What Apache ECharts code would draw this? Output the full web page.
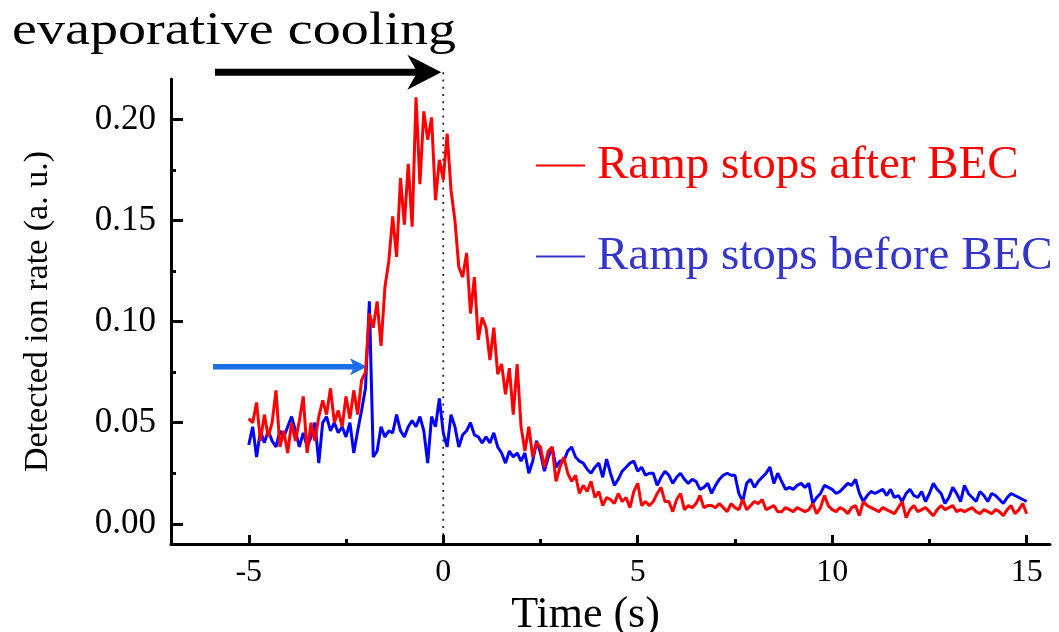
<!DOCTYPE html>
<html>
<head>
<meta charset="utf-8">
<title>Detected ion rate</title>
<script src="https://cdn.jsdelivr.net/npm/echarts@6/dist/echarts.min.js"></script>
<style>
    html, body { margin: 0; padding: 0; background: #fff; }
    #main { width: 1059px; height: 632px; }
</style>
</head>
<body>
<div id="main"></div>
<script>
var serif = '"Liberation Serif", "Times New Roman", serif';

// both traces: -5 s .. 15 s, one sample every 0.1 s
var timeStart = -5;
var timeStep = 0.1;

// Ramp stops after BEC (red)
var afterBEC = [
    0.052, 0.050, 0.060, 0.041, 0.054, 0.043, 0.050, 0.066, 0.038, 0.046,
    0.035, 0.050, 0.041, 0.051, 0.063, 0.035, 0.050, 0.041, 0.053, 0.061,
    0.054, 0.067, 0.050, 0.056, 0.048, 0.063, 0.052, 0.066, 0.054, 0.071,
    0.075, 0.104, 0.097, 0.110, 0.088, 0.117, 0.130, 0.152, 0.132, 0.171,
    0.148, 0.178, 0.147, 0.211, 0.168, 0.204, 0.190, 0.201, 0.160, 0.180,
    0.170, 0.193, 0.165, 0.150, 0.127, 0.122, 0.134, 0.104, 0.122, 0.091,
    0.102, 0.097, 0.081, 0.097, 0.074, 0.079, 0.064, 0.077, 0.054, 0.079,
    0.048, 0.036, 0.048, 0.033, 0.040, 0.038, 0.028, 0.036, 0.038, 0.021,
    0.028, 0.033, 0.025, 0.021, 0.024, 0.015, 0.019, 0.016, 0.021, 0.013,
    0.016, 0.009, 0.013, 0.012, 0.010, 0.015, 0.011, 0.013, 0.008, 0.016,
    0.020, 0.009, 0.011, 0.009, 0.011, 0.015, 0.018, 0.011, 0.011, 0.006,
    0.012, 0.015, 0.007, 0.009, 0.008, 0.010, 0.014, 0.008, 0.009, 0.009,
    0.008, 0.010, 0.008, 0.006, 0.010, 0.008, 0.007, 0.012, 0.007, 0.009,
    0.011, 0.010, 0.012, 0.007, 0.008, 0.009, 0.006, 0.006, 0.008, 0.007,
    0.006, 0.008, 0.007, 0.006, 0.007, 0.010, 0.005, 0.008, 0.014, 0.009,
    0.007, 0.006, 0.008, 0.007, 0.005, 0.008, 0.009, 0.004, 0.011, 0.009,
    0.008, 0.007, 0.006, 0.008, 0.007, 0.006, 0.005, 0.008, 0.011, 0.003,
    0.007, 0.009, 0.006, 0.007, 0.008, 0.006, 0.004, 0.007, 0.009, 0.007,
    0.008, 0.009, 0.006, 0.007, 0.006, 0.007, 0.008, 0.006, 0.005, 0.007,
    0.006, 0.005, 0.007, 0.006, 0.004, 0.007, 0.009, 0.005, 0.007, 0.010,
    0.005
];

// Ramp stops before BEC (blue)
var beforeBEC = [
    0.039, 0.048, 0.033, 0.046, 0.040, 0.046, 0.041, 0.038, 0.046, 0.043,
    0.048, 0.053, 0.046, 0.038, 0.045, 0.038, 0.043, 0.050, 0.030, 0.050,
    0.053, 0.046, 0.050, 0.045, 0.048, 0.043, 0.050, 0.035, 0.046, 0.056,
    0.067, 0.110, 0.033, 0.036, 0.048, 0.043, 0.046, 0.045, 0.054, 0.046,
    0.043, 0.048, 0.051, 0.048, 0.053, 0.046, 0.030, 0.053, 0.048, 0.062,
    0.045, 0.038, 0.054, 0.048, 0.038, 0.044, 0.046, 0.050, 0.044, 0.043,
    0.040, 0.043, 0.040, 0.045, 0.038, 0.035, 0.030, 0.036, 0.033, 0.035,
    0.031, 0.035, 0.025, 0.031, 0.041, 0.035, 0.026, 0.033, 0.038, 0.028,
    0.031, 0.031, 0.036, 0.038, 0.033, 0.031, 0.030, 0.027, 0.025, 0.028,
    0.030, 0.023, 0.032, 0.025, 0.019, 0.022, 0.026, 0.028, 0.030, 0.031,
    0.026, 0.028, 0.024, 0.025, 0.025, 0.019, 0.023, 0.026, 0.024, 0.020,
    0.023, 0.025, 0.022, 0.020, 0.022, 0.021, 0.017, 0.018, 0.020, 0.015,
    0.019, 0.022, 0.024, 0.025, 0.024, 0.024, 0.015, 0.011, 0.020, 0.022,
    0.018, 0.021, 0.023, 0.025, 0.028, 0.020, 0.025, 0.021, 0.017, 0.018,
    0.017, 0.019, 0.020, 0.018, 0.020, 0.010, 0.013, 0.015, 0.019, 0.018,
    0.017, 0.015, 0.016, 0.018, 0.020, 0.019, 0.022, 0.015, 0.011, 0.014,
    0.016, 0.015, 0.016, 0.017, 0.014, 0.017, 0.013, 0.014, 0.011, 0.015,
    0.017, 0.014, 0.013, 0.016, 0.011, 0.015, 0.020, 0.017, 0.015, 0.010,
    0.013, 0.018, 0.015, 0.011, 0.019, 0.015, 0.013, 0.011, 0.016, 0.014,
    0.011, 0.015, 0.014, 0.012, 0.010, 0.013, 0.015, 0.014, 0.013, 0.012,
    0.011
];

var xMajorTicks = [-5, 0, 5, 10, 15];
var xMinorTicks = [-2.5, 2.5, 7.5, 12.5];
var yMajorTicks = [0, 0.05, 0.10, 0.15, 0.20];
var yMinorTicks = [0.025, 0.075, 0.125, 0.175];

// annotation arrows, in data units (time, rate)
var coolingArrow = { from: [-5.87, 0.2233], to: [-0.05, 0.2233] };
var rampArrow = { from: [-5.92, 0.0777], to: [-1.96, 0.0777] };

function toPairs(values) {
    return values.map(function (v, i) {
        return [+(timeStart + i * timeStep).toFixed(2), v];
    });
}

var gridBox = { left: 171, right: 9, top: 79, bottom: 88, outerBoundsMode: 'none', containLabel: false };
var xRange = { min: -7, max: 15.6 };
var yRange = { min: -0.01, max: 0.22 };

var chart = echarts.init(document.getElementById('main'), null, { renderer: 'canvas' });

var option = {
    animation: false,
    backgroundColor: '#fff',
    grid: [
        Object.assign({}, gridBox),
        Object.assign({}, gridBox) // second grid only for the minor ticks
    ],
    legend: {
        orient: 'vertical',
        left: 531,
        top: 137,
        itemWidth: 49,
        itemHeight: 2,
        itemGap: 44,
        icon: 'rect',
        selectedMode: false,
        textStyle: {
            fontFamily: serif,
            fontSize: 47,
            padding: [0, 0, 0, 7]
        },
        data: [
            { name: 'Ramp stops after BEC', textStyle: { color: '#ff0000' }, itemStyle: { color: '#ff0000' } },
            { name: 'Ramp stops before BEC', textStyle: { color: '#3535c9' }, itemStyle: { color: '#3535c9' } }
        ]
    },
    xAxis: [{
        type: 'value',
        gridIndex: 0,
        min: xRange.min,
        max: xRange.max,
        name: 'Time (s)',
        nameLocation: 'middle',
        nameGap: 45,
        nameTextStyle: { fontFamily: serif, fontSize: 44, color: '#000', padding: [0, 50, 0, 0] },
        axisLine: { onZero: false, lineStyle: { color: '#000', width: 3 } },
        axisTick: { customValues: xMajorTicks, inside: true, length: 9, lineStyle: { color: '#000', width: 3 } },
        axisLabel: { customValues: xMajorTicks, fontFamily: serif, fontSize: 32, color: '#000', margin: 13 },
        splitLine: { show: false }
    }, {
        type: 'value',
        gridIndex: 1,
        min: xRange.min,
        max: xRange.max,
        axisLine: { show: false, onZero: false },
        axisTick: { customValues: xMinorTicks, inside: true, length: 5, lineStyle: { color: '#000', width: 3 } },
        axisLabel: { show: false },
        splitLine: { show: false }
    }],
    yAxis: [{
        type: 'value',
        gridIndex: 0,
        min: yRange.min,
        max: yRange.max,
        name: 'Detected ion rate (a. u.)',
        nameLocation: 'middle',
        nameGap: 116,
        nameTextStyle: { fontFamily: serif, fontSize: 34, color: '#000' },
        axisLine: { show: true, onZero: false, lineStyle: { color: '#000', width: 3 } },
        axisTick: { customValues: yMajorTicks, inside: true, length: 12, lineStyle: { color: '#000', width: 3 } },
        axisLabel: {
            customValues: yMajorTicks,
            fontFamily: serif,
            fontSize: 35,
            color: '#000',
            margin: 15,
            formatter: function (v) { return v.toFixed(2); }
        },
        splitLine: { show: false }
    }, {
        type: 'value',
        gridIndex: 1,
        min: yRange.min,
        max: yRange.max,
        axisLine: { show: false, onZero: false },
        axisTick: { customValues: yMinorTicks, inside: true, length: 5, lineStyle: { color: '#000', width: 3 } },
        axisLabel: { show: false },
        splitLine: { show: false }
    }],
    series: [{
        name: 'Ramp stops after BEC',
        type: 'line',
        xAxisIndex: 0,
        yAxisIndex: 0,
        z: 3,
        showSymbol: false,
        silent: true,
        data: toPairs(afterBEC),
        itemStyle: { color: '#ff0000' },
        lineStyle: { color: '#ff0000', width: 3 }
    }, {
        name: 'Ramp stops before BEC',
        type: 'line',
        xAxisIndex: 0,
        yAxisIndex: 0,
        z: 2,
        showSymbol: false,
        silent: true,
        data: toPairs(beforeBEC),
        itemStyle: { color: '#0000ff' },
        lineStyle: { color: '#0000ff', width: 3 }
    }]
};

chart.setOption(option);

// annotations placed from data coordinates
var px = function (p) { return chart.convertToPixel({ gridIndex: 0 }, p); };
var zeroTop = px([0, coolingArrow.to[1]]);
var zeroBottom = px([0, yRange.min]);
var coolFrom = px(coolingArrow.from), coolTo = px(coolingArrow.to);
var rampFrom = px(rampArrow.from), rampTo = px(rampArrow.to);

function arrowHead(tip, len, half, notch) {
    return [
        [tip[0], tip[1]],
        [tip[0] - len, tip[1] - half],
        [tip[0] - len + notch, tip[1]],
        [tip[0] - len, tip[1] + half]
    ];
}

chart.setOption({
    graphic: [
        {
            type: 'line',
            silent: true,
            shape: { x1: zeroTop[0], y1: zeroTop[1], x2: zeroBottom[0], y2: zeroBottom[1] },
            style: { stroke: '#222', lineWidth: 1.8, lineDash: [2, 5.2] }
        },
        {
            type: 'line',
            silent: true,
            shape: { x1: coolFrom[0], y1: coolFrom[1], x2: coolTo[0] - 22, y2: coolTo[1] },
            style: { stroke: '#000', lineWidth: 7 }
        },
        {
            type: 'polygon',
            silent: true,
            shape: { points: arrowHead(coolTo, 34, 17.5, 10) },
            style: { fill: '#000' }
        },
        {
            type: 'line',
            silent: true,
            shape: { x1: rampFrom[0], y1: rampFrom[1], x2: rampTo[0] - 12, y2: rampTo[1] },
            style: { stroke: '#1a6fe6', lineWidth: 5.5 }
        },
        {
            type: 'polygon',
            silent: true,
            shape: { points: arrowHead(rampTo, 17, 8.5, 4) },
            style: { fill: '#1a6fe6' }
        },
        {
            type: 'text',
            silent: true,
            x: 12,
            y: 9,
            scaleX: 1.22,
            style: {
                text: 'evaporative cooling',
                fontFamily: serif,
                fontSize: 46,
                fill: '#000',
                verticalAlign: 'top'
            }
        }
    ]
});
</script>
</body>
</html>
